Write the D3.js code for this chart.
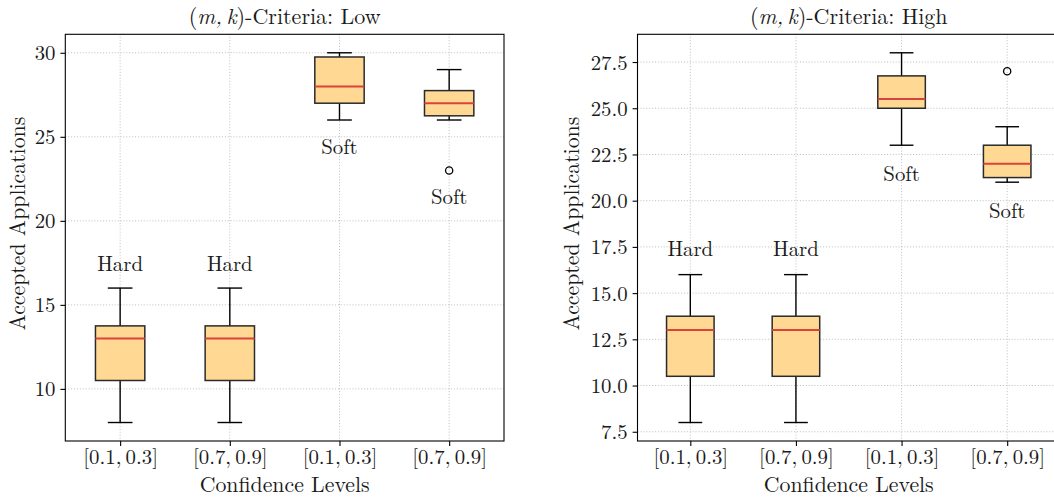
<!DOCTYPE html>
<html>
<head>
<meta charset="utf-8">
<script src="https://cdn.jsdelivr.net/npm/d3@7"></script>
<style>
  body { margin: 0; background: #fff; }
  svg text { font-family: "Latin Modern Roman", "Liberation Serif", serif; fill: #1a1a1a; }
</style>
</head>
<body>
<div id="app"></div>
<script>
// categories + labels shared by both panels
const categories = ["[0.1,\u20090.3]", "[0.7,\u20090.9]", "[0.1,\u20090.3]", "[0.7,\u20090.9]"];
const boxLabels = ["Hard", "Hard", "Soft", "Soft"];

// (m,k)-Criteria: Low
const lowMin    = [8, 8, 26, 26];
const lowQ1     = [10.5, 10.5, 27, 26.25];
const lowMedian = [13, 13, 28, 27];
const lowQ3     = [13.75, 13.75, 29.75, 27.75];
const lowMax    = [16, 16, 30, 29];
const lowFliers = [[], [], [], [23]];
const lowTicks  = [10, 15, 20, 25, 30];

// (m,k)-Criteria: High
const highMin    = [8, 8, 23, 21];
const highQ1     = [10.5, 10.5, 25, 21.25];
const highMedian = [13, 13, 25.5, 22];
const highQ3     = [13.75, 13.75, 26.75, 23];
const highMax    = [16, 16, 28, 24];
const highFliers = [[], [], [], [27]];
const highTicks  = [7.5, 10, 12.5, 15, 17.5, 20, 22.5, 25, 27.5];

const w = 1054,
      h = 499,
      plotTop = 34.3,
      plotBottom = 441;

const tickSize = 20.8,
      labelSize = 21.8,
      titleSize = 22;

const svg = d3.select("#app")
    .append("svg")
    .attr("width", w)
    .attr("height", h);

function drawPanel(p) {
    const boxes = categories.map((c, i) => ({
        pos: i + 1,
        cat: c,
        label: boxLabels[i],
        min: p.min[i], q1: p.q1[i], med: p.median[i], q3: p.q3[i], max: p.max[i],
        fliers: p.fliers[i]
    }));

    // matplotlib style autoscale: 5% margin around all values
    const all = boxes.flatMap(b => [b.min, b.max, ...b.fliers]);
    const lo = d3.min(all), hi = d3.max(all), m = (hi - lo) * 0.05;

    const xScale = d3.scaleLinear()
        .domain([0.5, categories.length + 0.5])
        .range([p.left, p.right]);

    const yScale = d3.scaleLinear()
        .domain([lo - m, hi + m])
        .range([plotBottom, plotTop]);

    const g = svg.append("g");

    // grid
    g.selectAll(".gy")
        .data(p.ticks)
        .enter()
        .append("line")
        .attr("x1", p.left).attr("x2", p.right)
        .attr("y1", d => yScale(d)).attr("y2", d => yScale(d))
        .attr("stroke", "#c4c4c4")
        .attr("stroke-width", 1)
        .attr("stroke-dasharray", "1.1,1.8");

    g.selectAll(".gx")
        .data(boxes)
        .enter()
        .append("line")
        .attr("x1", d => xScale(d.pos)).attr("x2", d => xScale(d.pos))
        .attr("y1", plotTop).attr("y2", plotBottom)
        .attr("stroke", "#c4c4c4")
        .attr("stroke-width", 1)
        .attr("stroke-dasharray", "1.1,1.8");

    // axes
    const xAxis = d3.axisBottom(xScale)
        .tickValues(boxes.map(d => d.pos))
        .tickFormat((d, i) => categories[i])
        .tickSize(4.9)
        .tickPadding(3.8)
        .tickSizeOuter(0);

    const yAxis = d3.axisLeft(yScale)
        .tickValues(p.ticks)
        .tickFormat(p.fmt)
        .tickSize(4.9)
        .tickPadding(4.9)
        .tickSizeOuter(0);

    const gx = g.append("g")
        .attr("transform", `translate(0, ${plotBottom})`)
        .call(xAxis);
    const gy = g.append("g")
        .attr("transform", `translate(${p.left}, 0)`)
        .call(yAxis);

    [gx, gy].forEach(a => {
        a.select(".domain").remove();
        a.selectAll(".tick line").attr("stroke", "#000").attr("stroke-width", 1.1);
        a.selectAll(".tick text")
            .attr("font-size", tickSize)
            .attr("font-family", "Latin Modern Roman")
            .attr("fill", "#1a1a1a");
    });
    gy.selectAll(".tick text").attr("dy", "0.34em");

    // frame
    g.append("rect")
        .attr("x", p.left).attr("y", plotTop)
        .attr("width", p.right - p.left)
        .attr("height", plotBottom - plotTop)
        .attr("fill", "none")
        .attr("stroke", "#000")
        .attr("stroke-width", 1.1);

    const half = 0.225, cap = 0.1125;

    const bx = g.selectAll(".box")
        .data(boxes)
        .enter()
        .append("g");

    // whiskers
    bx.append("line")
        .attr("x1", d => xScale(d.pos)).attr("x2", d => xScale(d.pos))
        .attr("y1", d => yScale(d.q3)).attr("y2", d => yScale(d.max))
        .attr("stroke", "#000").attr("stroke-width", 1.4);
    bx.append("line")
        .attr("x1", d => xScale(d.pos)).attr("x2", d => xScale(d.pos))
        .attr("y1", d => yScale(d.q1)).attr("y2", d => yScale(d.min))
        .attr("stroke", "#000").attr("stroke-width", 1.4);
    // caps
    bx.append("line")
        .attr("x1", d => xScale(d.pos - cap)).attr("x2", d => xScale(d.pos + cap))
        .attr("y1", d => yScale(d.max)).attr("y2", d => yScale(d.max))
        .attr("stroke", "#000").attr("stroke-width", 1.4);
    bx.append("line")
        .attr("x1", d => xScale(d.pos - cap)).attr("x2", d => xScale(d.pos + cap))
        .attr("y1", d => yScale(d.min)).attr("y2", d => yScale(d.min))
        .attr("stroke", "#000").attr("stroke-width", 1.4);

    // box
    bx.append("rect")
        .attr("x", d => xScale(d.pos - half))
        .attr("y", d => yScale(d.q3))
        .attr("width", d => xScale(d.pos + half) - xScale(d.pos - half))
        .attr("height", d => yScale(d.q1) - yScale(d.q3))
        .attr("fill", "#ffd993")
        .attr("stroke", "#2a2a2a")
        .attr("stroke-width", 1.5);

    // median
    bx.append("line")
        .attr("x1", d => xScale(d.pos - half)).attr("x2", d => xScale(d.pos + half))
        .attr("y1", d => yScale(d.med)).attr("y2", d => yScale(d.med))
        .attr("stroke", "#d9433b").attr("stroke-width", 2);

    // fliers
    bx.selectAll("circle")
        .data(d => d.fliers.map(v => ({ pos: d.pos, v })))
        .enter()
        .append("circle")
        .attr("cx", d => xScale(d.pos))
        .attr("cy", d => yScale(d.v))
        .attr("r", 3.6)
        .attr("fill", "none")
        .attr("stroke", "#000")
        .attr("stroke-width", 1.3);

    // Hard above the top, Soft below the lowest point
    bx.append("text")
        .attr("text-anchor", "middle")
        .attr("font-size", tickSize)
        .attr("x", d => xScale(d.pos))
        .attr("y", d => d.label === "Hard"
            ? yScale(d3.max([d.max, ...d.fliers]) + 1)
            : yScale(d3.min([d.min, ...d.fliers]) - 1) + 17.2)
        .text(d => d.label);

    // title
    const t = g.append("text")
        .attr("text-anchor", "middle")
        .attr("font-size", titleSize)
        .attr("x", (p.left + p.right) / 2)
        .attr("y", 23.5);
    t.append("tspan").text("(");
    t.append("tspan").attr("font-style", "italic").text("m,\u2009k");
    t.append("tspan").text(`)-Criteria:  ${p.title}`);

    // x label
    g.append("text")
        .attr("text-anchor", "middle")
        .attr("font-size", labelSize)
        .attr("x", (p.left + p.right) / 2)
        .attr("y", 491.5)
        .text("Confidence Levels");

    // y label
    g.append("text")
        .attr("text-anchor", "middle")
        .attr("font-size", labelSize)
        .attr("transform", `translate(${p.ylabelX}, ${(plotTop + plotBottom) / 2 - 14}) rotate(-90)`)
        .text("Accepted Applications");
}

drawPanel({
    title: "Low",
    left: 65.3, right: 504, ylabelX: 24.5,
    min: lowMin, q1: lowQ1, median: lowMedian, q3: lowQ3, max: lowMax, fliers: lowFliers,
    ticks: lowTicks, fmt: d3.format("d")
});

drawPanel({
    title: "High",
    left: 637.5, right: 1060, ylabelX: 579.3,
    min: highMin, q1: highQ1, median: highMedian, q3: highQ3, max: highMax, fliers: highFliers,
    ticks: highTicks, fmt: d3.format(".1f")
});
</script>
</body>
</html>
